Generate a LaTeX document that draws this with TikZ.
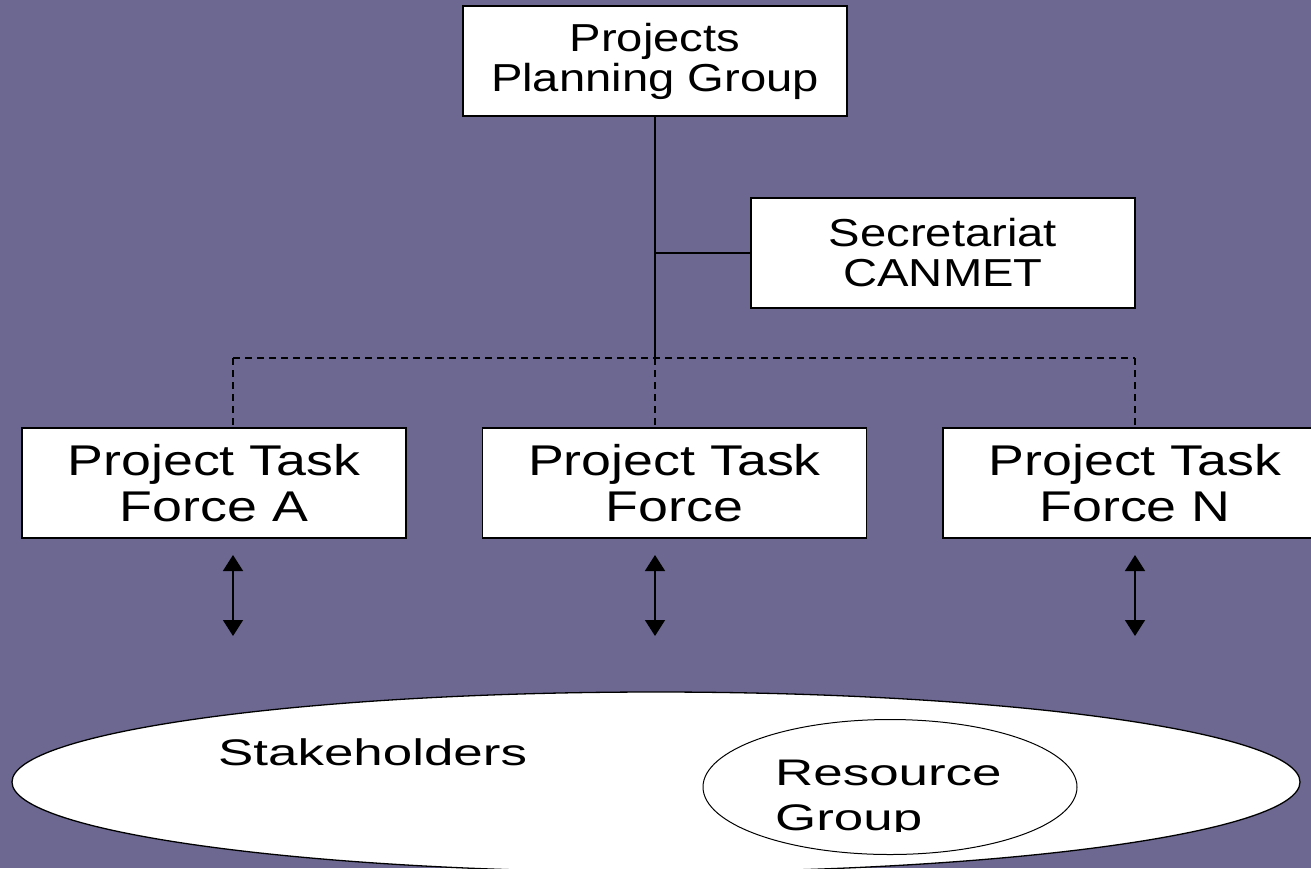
\documentclass[tikz,border=0pt]{standalone}
\usepackage{fontspec}
\setmainfont{Liberation Sans}
\newfontfamily\fontA[FakeStretch=1.21]{Liberation Sans}
\newfontfamily\fontB[FakeStretch=1.25]{Liberation Sans}
\newfontfamily\fontC[FakeStretch=1.43]{Liberation Sans}
\usetikzlibrary{arrows.meta,shapes.geometric}
\definecolor{bg}{RGB}{108,104,146}
\begin{document}
\begin{tikzpicture}[x=1pt,y=-1pt,
 box/.style={draw=black,line width=1.5pt,fill=white,minimum width=384pt,minimum height=110pt,inner sep=0pt,align=center},
 boxA/.style={box,font=\fontA\fontsize{39}{40}\selectfont},
 boxB/.style={box,font=\fontB\fontsize{43}{46}\selectfont},
 conn/.style={line width=1.5pt},
 dconn/.style={line width=1.5pt,dash pattern=on 7pt off 5pt},
 biarrow/.style={line width=1.5pt,{Triangle[width=20pt,length=16pt]}-{Triangle[width=20pt,length=16pt]}},
 ellbox/.style={draw=black,ellipse,fill=white,inner sep=0pt},
 elltext/.style={font=\fontC\fontsize{37}{45}\selectfont,inner sep=0pt}]
\useasboundingbox (0,0) rectangle (1311,868);
\fill[bg] (0,0) rectangle (1311,868);
% boxes
\node[boxA] (ppg) at (655,61) {Projects\\Planning Group};
\node[boxA] (sec) at (943,253) {Secretariat\\CANMET};
\node[boxB] (tfa) at (214,483) {Project Task\\Force A};
\node[boxB] (tf) at (674.5,483) {Project Task\\Force};
\node[boxB] (tfn) at (1135,483) {Project Task\\Force N};
% junctions
\coordinate (js) at (655,253);
\coordinate (jn) at (655,358);
\coordinate (jl) at (233,358);
\coordinate (jr) at (1135,358);
\draw[conn] (ppg.south) -- (jn);
\draw[conn] (js) -- (sec.west);
\draw[dconn] (jl) -- (jr);
\draw[dconn] (jl) -- (jl |- tfa.north);
\draw[dconn] (jn) -- (jn |- tf.north);
\draw[dconn] (jr) -- (tfn.north);
% arrows
\coordinate (a1t) at (233,555); \coordinate (a1b) at (233,636);
\coordinate (a2t) at (655,555); \coordinate (a2b) at (655,636);
\coordinate (a3t) at (1135,555); \coordinate (a3b) at (1135,636);
\draw[biarrow] (a1t) -- (a1b);
\draw[biarrow] (a2t) -- (a2b);
\draw[biarrow] (a3t) -- (a3b);
% ellipses
\node[ellbox,line width=1.3pt,minimum width=1288pt,minimum height=180pt] (stake) at (656,782) {};
\node[ellbox,line width=1pt,minimum width=374pt,minimum height=135pt] (rg) at (890,787) {};
\node[elltext,anchor=base west] (sttxt) at (218,765) {Stakeholders};
\begin{scope}
\clip (700,700) rectangle (1080,831);
\node[elltext,anchor=north west,align=left] (rgtxt) at (775,760) {Resource\\Group};
\end{scope}
\end{tikzpicture}
\end{document}
